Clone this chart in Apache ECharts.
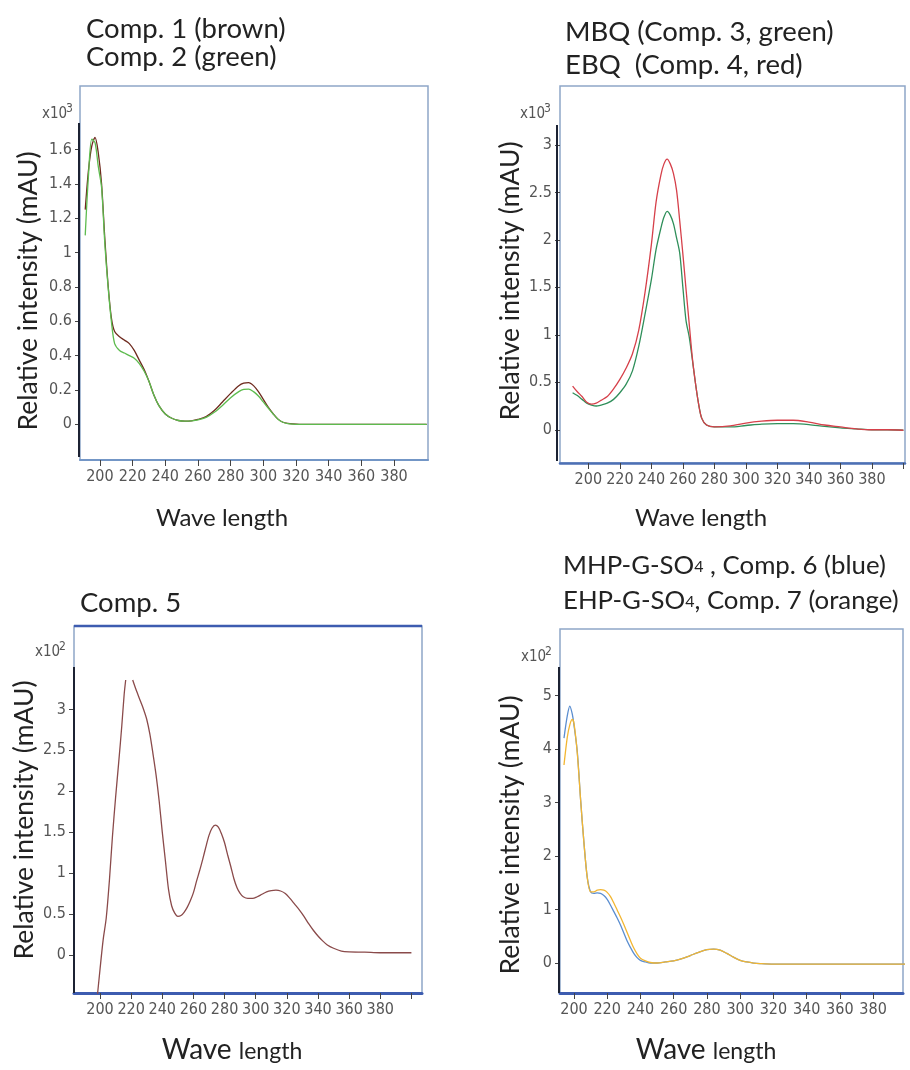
<!DOCTYPE html>
<html><head><meta charset="utf-8">
<script src="https://cdn.jsdelivr.net/npm/echarts@6/dist/echarts.min.js"></script>
<style>html,body{margin:0;padding:0;background:#fff}#c{width:910px;height:1070px}</style>
</head><body><div id="c"></div>
<script>
// ---------------- DATA ----------------
const xTickVals = [200,220,240,260,280,300,320,340,360,380,400];
const xLabelVals = [200,220,240,260,280,300,320,340,360,380];

// Panel 1: Comp. 1 (brown), Comp. 2 (green)  (x10^3 mAU)
const wl12 = [191,193,195,197,199,201,203,205,207,209,212,215,218,221,224,227,230,233,236,240,244,248,252,256,260,265,270,275,280,285,288,291,294,297,300,303,306,309,312,315,318,322,330,340,360,380,400];
const comp1 = [1.25,1.48,1.62,1.67,1.58,1.40,1.08,0.81,0.62,0.54,0.51,0.49,0.47,0.43,0.375,0.32,0.25,0.17,0.11,0.06,0.035,0.022,0.018,0.02,0.028,0.045,0.08,0.13,0.18,0.225,0.24,0.243,0.225,0.19,0.145,0.10,0.062,0.03,0.012,0.005,0.002,0,0,0,0,0,0];
const comp2 = [1.10,1.45,1.66,1.64,1.50,1.38,1.05,0.80,0.60,0.47,0.43,0.415,0.40,0.385,0.355,0.31,0.25,0.17,0.11,0.06,0.035,0.022,0.018,0.02,0.025,0.04,0.07,0.11,0.155,0.19,0.203,0.205,0.19,0.165,0.13,0.095,0.06,0.03,0.012,0.004,0.001,0,0,0,0,0,0];
const yTicks1 = [0,0.2,0.4,0.6,0.8,1,1.2,1.4,1.6];

// Panel 2: MBQ (Comp. 3, green), EBQ (Comp. 4, red)  (x10^3 mAU)
const wl34 = [190,193,196,199,202,205,208,212,216,220,224,228,232,236,240,243,246,248,250,252,254,256,258,260,262,264,266,268,270,272,275,280,290,300,310,320,330,340,350,360,370,380,390,400];
const comp3 = [0.39,0.36,0.32,0.28,0.26,0.25,0.26,0.28,0.32,0.39,0.48,0.62,0.88,1.22,1.58,1.90,2.12,2.24,2.30,2.26,2.17,2.02,1.86,1.50,1.15,0.98,0.74,0.49,0.27,0.12,0.05,0.03,0.03,0.045,0.06,0.065,0.065,0.055,0.035,0.02,0.01,0.0,0.0,-0.005];
const comp4 = [0.46,0.40,0.35,0.29,0.27,0.28,0.31,0.35,0.43,0.53,0.65,0.80,1.05,1.45,1.95,2.40,2.68,2.80,2.85,2.80,2.70,2.52,2.20,1.85,1.48,1.12,0.76,0.49,0.27,0.12,0.05,0.03,0.04,0.07,0.09,0.10,0.10,0.08,0.05,0.03,0.01,0.0,0.0,-0.005];
const yTicks2 = [0,0.5,1,1.5,2,2.5,3];

// Panel 3: Comp. 5  (x10^2 mAU)
const wl5 = [197,200,202,204,206,208,210,212,214,215.5,216.5,218.5,221,223,226,228,230,232,234,236,238,240,242,244,246,248,250,252,254,256,258,260,262,264,266,268,270,272,274,276,278,280,282,284,286,288,290,292,295,298,301,304,307,310,313,316,319,322,325,328,331,334,337,340,343,346,350,355,360,370,380,390,400];
const comp5 = [-0.75,-0.18,0.18,0.45,0.90,1.45,1.92,2.35,2.80,3.18,3.36,null,3.36,3.25,3.10,3.00,2.88,2.70,2.46,2.20,1.88,1.50,1.15,0.80,0.60,0.51,0.47,0.48,0.52,0.58,0.66,0.76,0.90,1.03,1.17,1.32,1.46,1.55,1.585,1.56,1.48,1.37,1.22,1.08,0.93,0.82,0.75,0.71,0.69,0.69,0.71,0.74,0.77,0.785,0.79,0.78,0.75,0.69,0.62,0.55,0.47,0.38,0.30,0.23,0.17,0.12,0.08,0.045,0.035,0.032,0.025,0.025,0.025];
const yTicks3 = [0,0.5,1,1.5,2,2.5,3];

// Panel 4: MHP-G-SO4 Comp. 6 (blue), EHP-G-SO4 Comp. 7 (orange)  (x10^2 mAU)
const wl67 = [194,196,197.5,199,200,202,204,206,208,210,212,214,216,218,220,222,224,226,228,230,232,234,236,238,240,243,246,250,255,260,265,270,275,280,284,288,292,296,300,304,308,312,320,340,360,380,400];
const comp6 = [4.20,4.62,4.80,4.65,4.45,3.95,3.05,2.25,1.60,1.33,1.30,1.31,1.30,1.26,1.19,1.08,0.96,0.84,0.71,0.56,0.41,0.29,0.18,0.10,0.05,0.02,0.0,0.0,0.02,0.04,0.08,0.14,0.20,0.25,0.26,0.24,0.18,0.11,0.05,0.02,0.0,-0.01,-0.02,-0.02,-0.02,-0.02,-0.02];
const comp7 = [3.70,4.22,4.45,4.55,4.48,3.92,3.05,2.25,1.60,1.33,1.33,1.36,1.37,1.36,1.32,1.24,1.12,0.99,0.86,0.72,0.57,0.42,0.28,0.17,0.09,0.04,0.01,0.0,0.02,0.04,0.08,0.14,0.20,0.25,0.26,0.24,0.18,0.11,0.05,0.02,0.0,-0.01,-0.02,-0.02,-0.02,-0.02,-0.02];
const yTicks4 = [0,1,2,3,4,5];

// ---------------- LAYOUT ----------------
const panels = [
  {l:80, t:86, w:348, h:374, xmin:187.8, xmax:400.8, ymin:-0.208, ymax:1.97, yt:yTicks1, axisCol:'#7396c6', axisW:2,
   yLine:[79,123,457], exp:'3', expPos:[42,114], lastTick:false},
  {l:560, t:86, w:345, h:377, xmin:182, xmax:401, ymin:-0.35, ymax:3.62, yt:yTicks2, axisCol:'#4d70b5', axisW:2.5,
   yLine:[557,125,461], exp:'3', expPos:[520,114], lastTick:true},
  {l:74, t:626, w:348, h:367, xmin:183.3, xmax:406.8, ymin:-0.467, ymax:4.02, yt:yTicks3, axisCol:'#3d5cb0', axisW:3,
   yLine:[74,667,993], exp:'2', expPos:[35,652], lastTick:true},
  {l:560, t:629, w:343, h:364, xmin:191.6, xmax:398, ymin:-0.56, ymax:6.24, yt:yTicks4, axisCol:'#3d5cb0', axisW:3,
   yLine:[559,667,993], exp:'2', expPos:[521,657], lastTick:false}
];

const tickFont = '"Liberation Sans Narrow", "DejaVu Sans Condensed", sans-serif';
const textFont = 'Lato, "Open Sans", sans-serif';

const grids = [], xAxes = [], yAxes = [];
panels.forEach((p, i) => {
  grids.push({left:p.l, top:p.t, width:p.w, height:p.h, show:true, backgroundColor:'#fff',
    borderColor:'#8ea6c8', borderWidth:1.5, containLabel:false, outerBoundsMode:'none'});
  xAxes.push({type:'value', gridIndex:i, min:p.xmin, max:p.xmax,
    splitLine:{show:false},
    axisLine:{show:true, onZero:false, lineStyle:{color:p.axisCol, width:p.axisW}},
    axisTick:{show:true, inside:false, length:6, customValues:p.lastTick ? xTickVals : xLabelVals, lineStyle:{color:'#444', width:1}},
    axisLabel:{show:true, customValues:xLabelVals, margin:9, color:'#555', fontFamily:tickFont, fontSize:16}
  });
  yAxes.push({type:'value', gridIndex:i, min:p.ymin, max:p.ymax,
    splitLine:{show:false},
    axisLine:{show:false},
    axisTick:{show:true, inside:false, length:5, customValues:p.yt, lineStyle:{color:'#444', width:1}},
    axisLabel:{show:true, customValues:p.yt, margin:8, color:'#555', fontFamily:tickFont, fontSize:16}
  });
});

function pairs(xs, ys){ return xs.map((x, k) => [x, ys[k]]); }
function line(name, i, xs, ys, color){
  return {name, type:'line', xAxisIndex:i, yAxisIndex:i, data:pairs(xs, ys), showSymbol:false, symbol:'none',
    smooth:0.3, connectNulls:false, clip:true, lineStyle:{color, width:1.3}, itemStyle:{color}, z:3};
}
const series = [
  line('Comp. 1', 0, wl12, comp1, '#6e2a1e'),
  line('Comp. 2', 0, wl12, comp2, '#5dbb4e'),
  line('MBQ (Comp. 3)', 1, wl34, comp3, '#2f8f5a'),
  line('EBQ (Comp. 4)', 1, wl34, comp4, '#d6404a'),
  line('Comp. 5', 2, wl5, comp5, '#8a4a4a'),
  line('MHP-G-SO4 (Comp. 6)', 3, wl67, comp6, '#5b8ed0'),
  line('EHP-G-SO4 (Comp. 7)', 3, wl67, comp7, '#f2b632')
];

// ---------------- TEXT / DECORATIONS ----------------
const g = [];
function txt(x, y, text, fs, opts){
  g.push(Object.assign({type:'text', x, y, z:10, silent:true,
    style:Object.assign({text, fontFamily:textFont, fontSize:fs, fill:'#222', align:'left', verticalAlign:'middle'}, (opts&&opts.style)||{})},
    opts && opts.rotation ? {rotation:opts.rotation} : {}));
}
const TF = 27.5;
// titles
txt(86, 29, 'Comp. 1 (brown)', TF);
txt(86, 57, 'Comp. 2 (green)', TF);
txt(565, 32, 'MBQ (Comp. 3, green)', TF);
txt(565, 65, 'EBQ  (Comp. 4, red)', TF);
txt(80, 603, 'Comp. 5', TF);
const TF4 = 25.8;
const richT = {a:{fontFamily:textFont, fontSize:TF4, fill:'#222', verticalAlign:'bottom'}, s:{fontFamily:textFont, fontSize:16, fill:'#222', verticalAlign:'bottom', padding:[0,0,4,0]}};
g.push({type:'text', x:563, y:566, z:10, silent:true, style:{
  text:'{a|MHP-G-SO}{s|4}{a| , Comp. 6 (blue)}', fontFamily:textFont, align:'left', verticalAlign:'middle', rich:richT}});
g.push({type:'text', x:563, y:601, z:10, silent:true, style:{
  text:'{a|EHP-G-SO}{s|4}{a|, Comp. 7 (orange)}', fontFamily:textFont, align:'left', verticalAlign:'middle', rich:richT}});

// y axis names
const yNamePos = [[28,291],[510,281],[24,820],[510,835]];
yNamePos.forEach(p => txt(p[0], p[1], 'Relative intensity (mAU)', 26.5, {rotation:Math.PI/2, style:{align:'center'}}));
// x axis names
txt(222, 518, 'Wave length', 24, {style:{align:'center'}});
txt(701, 518, 'Wave length', 24, {style:{align:'center'}});
[[232,1050],[706,1050]].forEach(p => {
  g.push({type:'text', x:p[0], y:p[1], z:10, silent:true, style:{
    text:'{a|Wave }{b|length}', align:'center', verticalAlign:'middle',
    rich:{a:{fontFamily:textFont, fontSize:28, fill:'#222', verticalAlign:'bottom'}, b:{fontFamily:textFont, fontSize:23, fill:'#222', verticalAlign:'bottom', padding:[0,0,1,0]}}}});
});

// exponent labels and dark y-axis segments
panels.forEach(p => {
  g.push({type:'text', x:p.expPos[0], y:p.expPos[1], z:10, silent:true,
    style:{text:'x10', fontFamily:tickFont, fontSize:15, fill:'#555', align:'left', verticalAlign:'middle'}});
  g.push({type:'text', x:p.expPos[0]+24, y:p.expPos[1]-5, z:10, silent:true,
    style:{text:p.exp, fontFamily:tickFont, fontSize:12, fill:'#555', align:'left', verticalAlign:'middle'}});
  g.push({type:'line', z:9, silent:true, shape:{x1:p.yLine[0], y1:p.yLine[1], x2:p.yLine[0], y2:p.yLine[2]},
    style:{stroke:'#1c2233', lineWidth:2}});
});
// blue top border of panel 3
g.push({type:'line', z:9, silent:true, shape:{x1:panels[2].l, y1:panels[2].t, x2:panels[2].l+panels[2].w, y2:panels[2].t},
  style:{stroke:'#3d5cb0', lineWidth:2.5}});

const chart = echarts.init(document.getElementById('c'), null, {renderer:'canvas'});
chart.setOption({
  animation:false,
  backgroundColor:'#fff',
  grid:grids, xAxis:xAxes, yAxis:yAxes, series, graphic:g
});
</script>
</body></html>
